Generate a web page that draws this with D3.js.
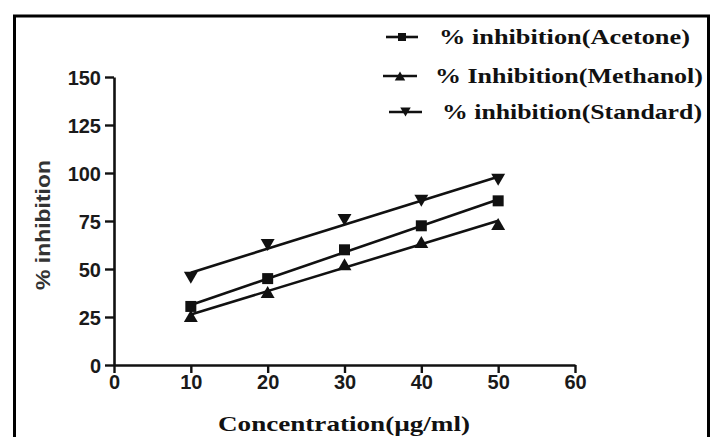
<!DOCTYPE html>
<html>
<head>
<meta charset="utf-8">
<script src="https://cdn.jsdelivr.net/npm/d3@7"></script>
<style>
  html, body { margin: 0; padding: 0; background: #fff; }
  svg { display: block; }
</style>
</head>
<body>
<svg id="chart" width="710" height="437"></svg>
<script>
// Concentration levels (µg/ml)
const concentrations = [10, 20, 30, 40, 50];

// % inhibition per extract
const acetone  = [30.5, 45, 60, 72.5, 85.5];
const methanol = [25.5, 38, 52.5, 64, 73.5];
const standard = [45.5, 62.5, 75.5, 85.5, 96.5];

// Axis ticks
const xTicks = [0, 10, 20, 30, 40, 50, 60];
const yTicks = [0, 25, 50, 75, 100, 125, 150];

// Series labels and their marker shapes
const seriesNames   = ["% inhibition(Acetone)", "% Inhibition(Methanol)", "% inhibition(Standard)"];
const seriesMarkers = ["square", "triangleUp", "triangleDown"];

const seriesValues = [acetone, methanol, standard];
const series = seriesNames.map((name, i) => ({
  name,
  marker: seriesMarkers[i],
  points: concentrations.map((c, j) => ({ x: c, y: seriesValues[i][j] }))
}));

// Least-squares straight line through a series, spanning its x range
function linearFit(points) {
  const mx = d3.mean(points, p => p.x);
  const my = d3.mean(points, p => p.y);
  const sxy = d3.sum(points, p => (p.x - mx) * (p.y - my));
  const sxx = d3.sum(points, p => (p.x - mx) ** 2);
  const slope = sxy / sxx;
  const [x0, x1] = d3.extent(points, p => p.x);
  return [x0, x1].map(v => ({ x: v, y: my + slope * (v - mx) }));
}

const svg = d3.select("#chart");
const ink = "#111";

// Outer frame
svg.append("path")
  .attr("d", "M14.5,440 L14.5,16 L708.5,16 L708.5,440")
  .attr("fill", "none")
  .attr("stroke", "#000")
  .attr("stroke-width", 3);

const x = d3.scaleLinear().domain([0, 60]).range([114, 575]);
const y = d3.scaleLinear().domain([0, 150]).range([365, 77]);

// Marker path builder, centred on its bounding box
function markerPath(type, cx, cy, s) {
  const h = s / 2;
  if (type === "square") {
    return `M${cx - h},${cy - h}h${s}v${s}h${-s}Z`;
  }
  const w = s * 0.58;
  if (type === "triangleUp") {
    return `M${cx},${cy - h}L${cx + w},${cy + h}L${cx - w},${cy + h}Z`;
  }
  return `M${cx - w},${cy - h}L${cx + w},${cy - h}L${cx},${cy + h}Z`;
}

// Y axis
const yAxis = svg.append("g")
  .attr("transform", `translate(${x(0)},0)`)
  .call(d3.axisLeft(y).tickValues(yTicks).tickSize(9).tickPadding(4).tickSizeOuter(0));
yAxis.select(".domain").attr("stroke", ink).attr("stroke-width", 2.6);
yAxis.selectAll(".tick line").attr("stroke", ink).attr("stroke-width", 2.4);
yAxis.selectAll(".tick text")
  .attr("fill", "#1a1a1a")
  .style("font-family", "'Liberation Sans', Arial, sans-serif")
  .style("font-weight", "bold")
  .style("font-size", "20px")
  .attr("dy", "0.36em");

// X axis
const xAxis = svg.append("g")
  .attr("transform", `translate(0,${y(0)})`)
  .call(d3.axisBottom(x).tickValues(xTicks).tickSize(8).tickPadding(2).tickSizeOuter(0));
xAxis.select(".domain").attr("stroke", ink).attr("stroke-width", 2.6);
xAxis.selectAll(".tick line").attr("stroke", ink).attr("stroke-width", 2.4);
xAxis.selectAll(".tick text")
  .attr("fill", "#1a1a1a")
  .style("font-family", "'Liberation Sans', Arial, sans-serif")
  .style("font-weight", "bold")
  .style("font-size", "20px")
  .attr("dy", "0.72em");

// Axis titles
svg.append("text")
  .attr("transform", "translate(50,225) rotate(-90)")
  .attr("text-anchor", "middle")
  .attr("textLength", 130)
  .attr("lengthAdjust", "spacingAndGlyphs")
  .attr("fill", "#333")
  .style("font-family", "'Liberation Sans', Arial, sans-serif")
  .style("font-weight", "bold")
  .style("font-size", "20px")
  .text("% inhibition");

svg.append("text")
  .attr("x", 218)
  .attr("y", 431)
  .attr("textLength", 252)
  .attr("lengthAdjust", "spacingAndGlyphs")
  .attr("fill", "#111")
  .style("font-family", "'Liberation Serif', 'Times New Roman', serif")
  .style("font-weight", "bold")
  .style("font-size", "22px")
  .text("Concentration(µg/ml)");

// Series: fitted lines and data markers
const line = d3.line().x(d => x(d.x)).y(d => y(d.y));
const groups = svg.selectAll("g.series")
  .data(series)
  .join("g")
  .attr("class", "series");

groups.append("path")
  .attr("d", d => line(linearFit(d.points)))
  .attr("fill", "none")
  .attr("stroke", ink)
  .attr("stroke-width", 2.6);

groups.selectAll("path.marker")
  .data(d => d.points.map(p => ({ ...p, marker: d.marker })))
  .join("path")
  .attr("class", "marker")
  .attr("d", d => markerPath(d.marker, x(d.x), y(d.y), d.marker === "square" ? 11 : 12))
  .attr("fill", ink);

// Legend
const legendRows = [
  { y: 37, x0: 386, x1: 418, tx: 439, tl: 251 },
  { y: 76, x0: 383, x1: 417, tx: 435, tl: 268 },
  { y: 112, x0: 389, x1: 422, tx: 442, tl: 260 }
];
const legend = svg.selectAll("g.legend")
  .data(series)
  .join("g")
  .attr("class", "legend");

legend.append("line")
  .attr("x1", (d, i) => legendRows[i].x0)
  .attr("x2", (d, i) => legendRows[i].x1)
  .attr("y1", (d, i) => legendRows[i].y)
  .attr("y2", (d, i) => legendRows[i].y)
  .attr("stroke", ink)
  .attr("stroke-width", 2.6);

legend.append("path")
  .attr("d", (d, i) => {
    const r = legendRows[i];
    return markerPath(d.marker, (r.x0 + r.x1) / 2, r.y, d.marker === "square" ? 8 : 9);
  })
  .attr("fill", ink);

legend.append("text")
  .attr("x", (d, i) => legendRows[i].tx)
  .attr("y", (d, i) => legendRows[i].y + 7)
  .attr("textLength", (d, i) => legendRows[i].tl)
  .attr("lengthAdjust", "spacingAndGlyphs")
  .attr("fill", "#111")
  .style("font-family", "'Liberation Serif', 'Times New Roman', serif")
  .style("font-weight", "bold")
  .style("font-size", "21px")
  .text(d => d.name);
</script>
</body>
</html>
